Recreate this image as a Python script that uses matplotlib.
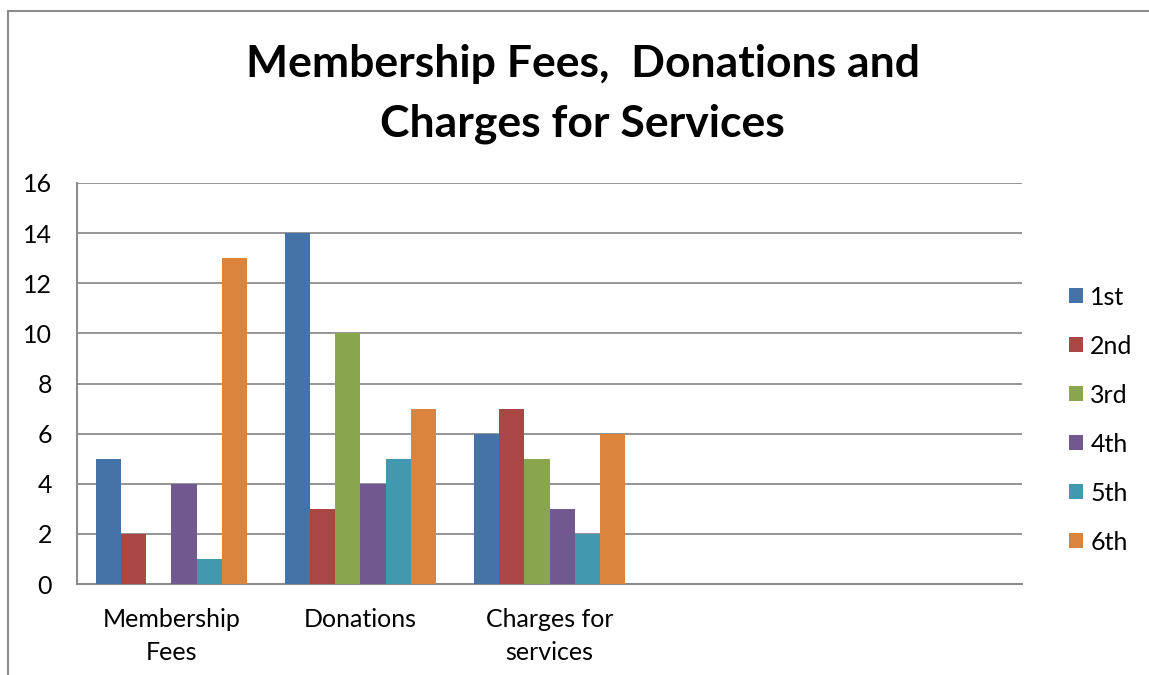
import matplotlib.pyplot as plt
from matplotlib.lines import Line2D
import numpy as np

# data
categories = ['Membership\nFees', 'Donations', 'Charges for\nservices', '', '']
series_names = ['1st', '2nd', '3rd', '4th', '5th', '6th']
first = [5, 14, 6, 0, 0]
second = [2, 3, 7, 0, 0]
third = [0, 10, 5, 0, 0]
fourth = [4, 4, 3, 0, 0]
fifth = [1, 5, 2, 0, 0]
sixth = [13, 7, 6, 0, 0]
colors = ['#4572A7', '#AA4643', '#89A54E', '#71588F', '#4198AF', '#DB843D']

plt.rcParams['font.family'] = ['Lato', 'DejaVu Sans']

fig = plt.figure(figsize=(11.49, 6.75), dpi=100)
ax = fig.add_axes([0.067, 0.1348, 0.8225, 0.5941])

x = np.arange(len(categories))
width = 0.8 / 6
all_series = [first, second, third, fourth, fifth, sixth]
for i, vals in enumerate(all_series):
    ax.bar(x - 0.4 + width * (i + 0.5), vals, width, color=colors[i],
           label=series_names[i], edgecolor='none', zorder=3)

ax.set_xlim(-0.5, 4.5)
ax.set_ylim(0, 16)
ax.set_yticks(range(0, 17, 2))
ax.set_xticks(x)
ax.set_xticklabels(categories, fontsize=18, linespacing=1.55)
ax.tick_params(axis='y', labelsize=18, length=0, pad=18)
ax.tick_params(axis='x', length=0, pad=17)
ax.grid(axis='y', color='#8c8c8c', linewidth=1.3, zorder=0)
for s in ['top', 'right']:
    ax.spines[s].set_visible(False)
for s in ['left', 'bottom']:
    ax.spines[s].set_color('#8c8c8c')
    ax.spines[s].set_linewidth(1.5)

fig.suptitle('Membership Fees,  Donations and\nCharges for Services', x=0.507, y=0.935,
             fontsize=32, fontweight='bold', linespacing=1.58)

ax.legend(loc='center left', bbox_to_anchor=(1.026, 0.41), frameon=False,
          fontsize=18, handlelength=0.55, handleheight=0.55, handletextpad=0.3,
          labelspacing=1.04)

# outer chart border (only top and left show)
fig.add_artist(Line2D([0.007, 0.007], [0, 0.984], color='#8c8c8c', linewidth=1.5))
fig.add_artist(Line2D([0.007, 1], [0.984, 0.984], color='#8c8c8c', linewidth=1.5))

plt.savefig('out.png')
